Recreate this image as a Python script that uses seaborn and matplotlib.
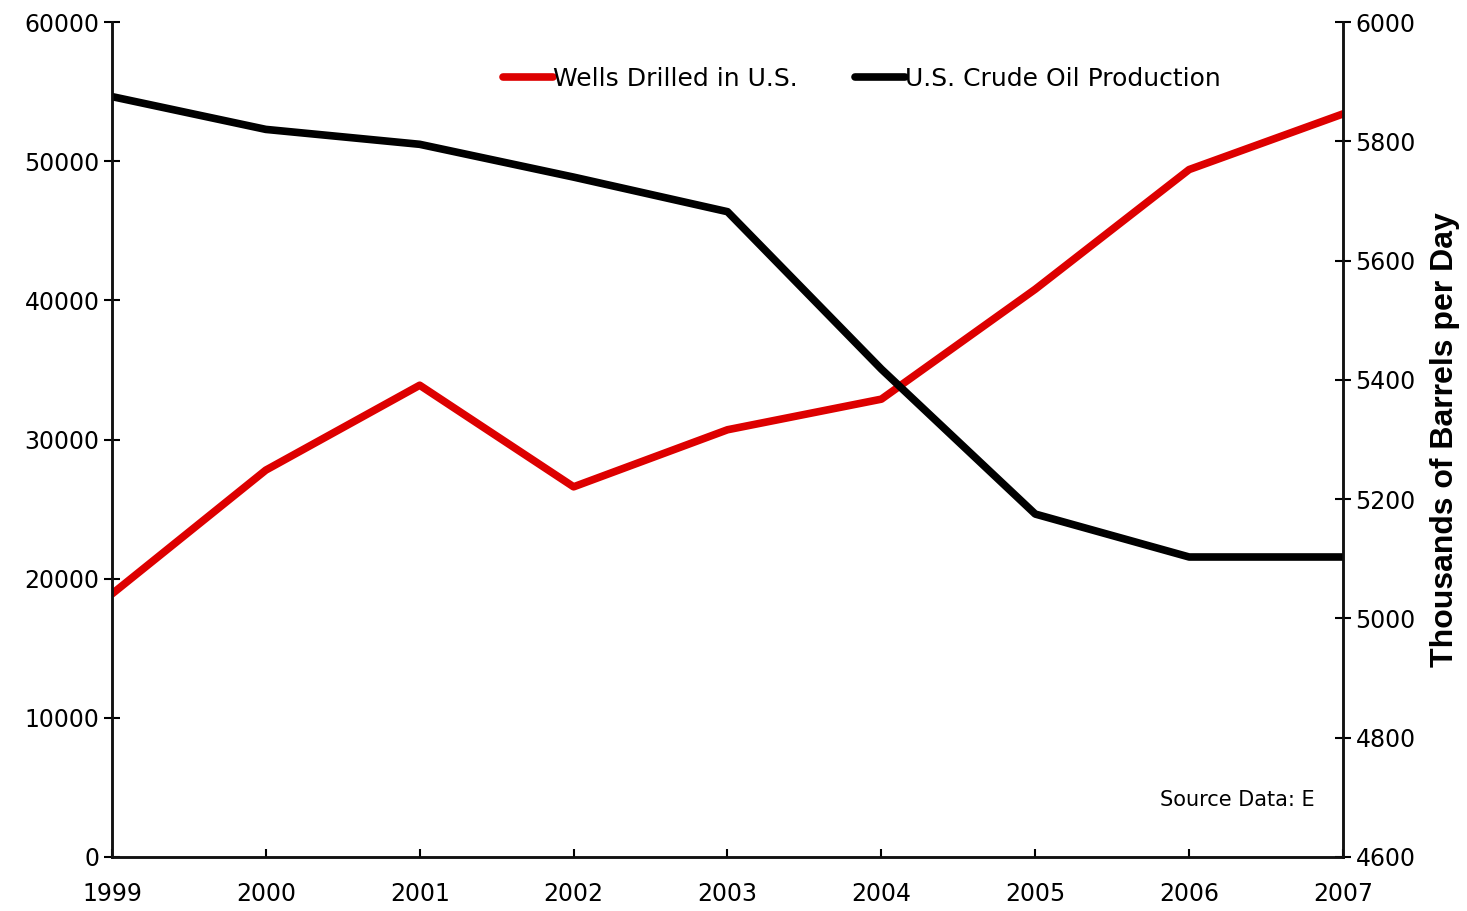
import pandas as pd
import numpy as np
import matplotlib
matplotlib.use("Agg")
import matplotlib.pyplot as plt
import seaborn as sns

# data
years = [1999, 2000, 2001, 2002, 2003, 2004, 2005, 2006, 2007]
wells_drilled = [18900, 27800, 33900, 26600, 30700, 32900, 40800, 49400, 53400]
crude_production = [5875, 5820, 5795, 5740, 5682, 5418, 5175, 5103, 5103]
left_ticks = [0, 10000, 20000, 30000, 40000, 50000, 60000]
right_ticks = [4600, 4800, 5000, 5200, 5400, 5600, 5800, 6000]

df = pd.DataFrame({"year": years, "wells": wells_drilled, "crude": crude_production})

sns.set_theme(style="white")
plt.rcParams["font.family"] = ["DejaVu Sans"]
plt.rcParams["text.color"] = "black"
plt.rcParams["xtick.color"] = "black"
plt.rcParams["ytick.color"] = "black"
plt.rcParams["axes.labelcolor"] = "black"

fig = plt.figure(figsize=(14.67, 9.11), dpi=100)
ax = fig.add_axes([0.0763, 0.0593, 0.8392, 0.9165])
ax2 = ax.twinx()

sns.lineplot(data=df, x="year", y="wells", ax=ax, color="#dd0000", lw=5.5,
             label="Wells Drilled in U.S.", legend=False)
sns.lineplot(data=df, x="year", y="crude", ax=ax2, color="black", lw=5.5,
             label="U.S. Crude Oil Production", legend=False)

# x-axis
ax.set_xlim(1999, 2007)
ax.set_xticks(years)
ax.set_xticklabels([str(y) for y in years])
ax.set_xlabel("")
ax.tick_params(axis="x", direction="in", length=6, width=1.5, labelsize=17, pad=18, bottom=True)
# left y-axis
ax.set_ylim(0, 60000)
ax.set_yticks(left_ticks)
ax.set_ylabel("")
ax.tick_params(axis="y", direction="inout", length=12, width=1.5, labelsize=17, pad=3, left=True)
# right y-axis
ax2.set_ylim(4600, 6000)
ax2.set_yticks(right_ticks)
ax2.set_ylabel("Thousands of Barrels per Day", fontsize=23, fontweight="bold",
               family="Liberation Sans", labelpad=10)
ax2.tick_params(axis="y", direction="inout", length=12, width=1.5, labelsize=17, pad=3, right=True)

# spines
for a in [ax, ax2]:
    a.spines["top"].set_visible(False)
    for loc in ["left", "right", "bottom"]:
        a.spines[loc].set_linewidth(1.8)
        a.spines[loc].set_color("#111111")
ax.grid(False)
ax2.grid(False)

# legend
h1, l1 = ax.get_legend_handles_labels()
h2, l2 = ax2.get_legend_handles_labels()
ax.legend(h1 + h2, l1 + l2, loc="upper center", bbox_to_anchor=(0.609, 0.973), ncol=2,
          frameon=False, fontsize=18, handlelength=2.0, handletextpad=0.0, columnspacing=2.3)

ax.text(0.977, 0.068, "Source Data: E", transform=ax.transAxes, ha="right", va="center", fontsize=15)

fig.savefig("out.png", dpi=100)
